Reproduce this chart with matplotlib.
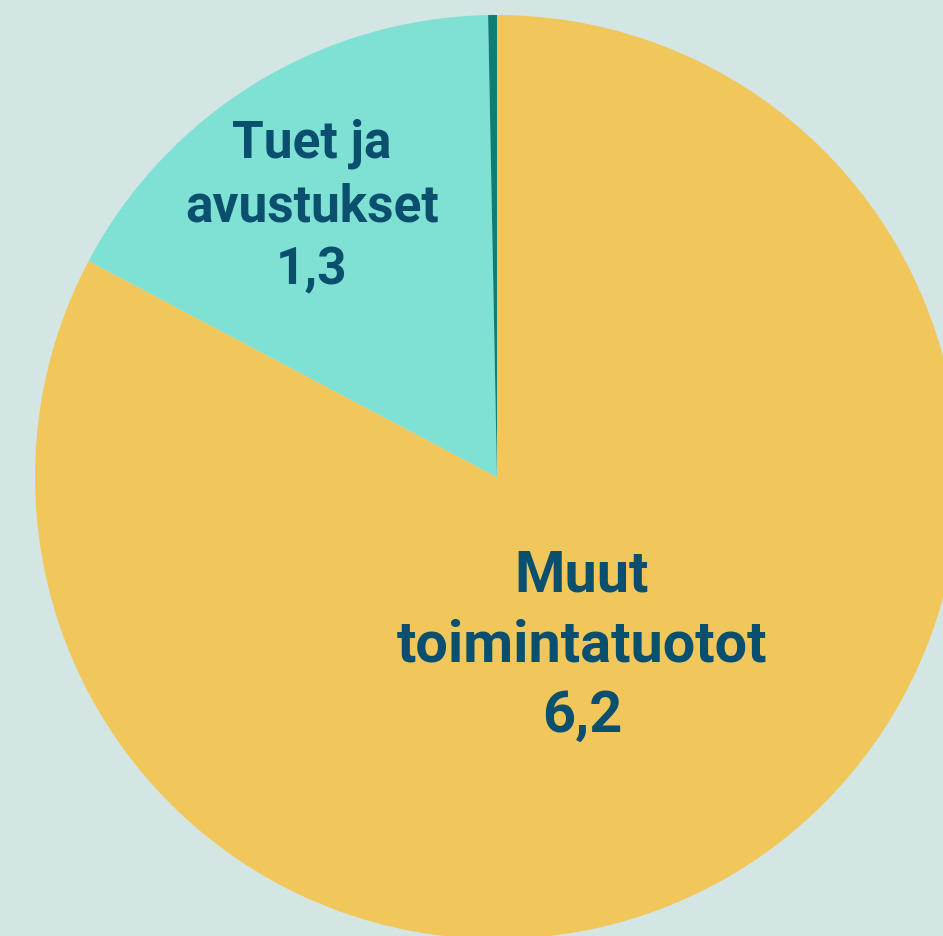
import matplotlib
matplotlib.use("Agg")
import matplotlib.pyplot as plt

labels = ["Muut\ntoimintatuotot\n6,2", "Tuet ja\navustukset\n1,3", ""]
values = [6.2, 1.27, 0.023]
colors = ["#F1C75B", "#7FE1D4", "#0E7D74"]

W, H = 943, 936
cx, cy, R = 497, 477, 462
fig = plt.figure(figsize=(W / 100, H / 100), dpi=100)
fig.patch.set_facecolor("#D4E6E4")
ax = fig.add_axes([0, 0, 1, 1])
ax.set_facecolor("#D4E6E4")
ax.pie(values, colors=colors, startangle=90, counterclock=False, radius=1,
       wedgeprops=dict(linewidth=0))
ax.set_xlim((0 - cx) / R, (W - cx) / R)
ax.set_ylim((cy - H) / R, (cy - 0) / R)
ax.set_aspect("equal")
ax.axis("off")

def px(x, y):
    return ((x - cx) / R, (cy - y) / R)

txt = dict(ha="center", va="center", color="#0B4F6E",
           fontweight="bold", family=["Roboto", "DejaVu Sans"], linespacing=1.35)
ax.text(*px(582, 646), labels[0], fontsize=41.5, **txt)
ax.text(*px(312, 207), labels[1], fontsize=37, **txt)

fig.savefig("out.png", dpi=100, facecolor=fig.get_facecolor())
